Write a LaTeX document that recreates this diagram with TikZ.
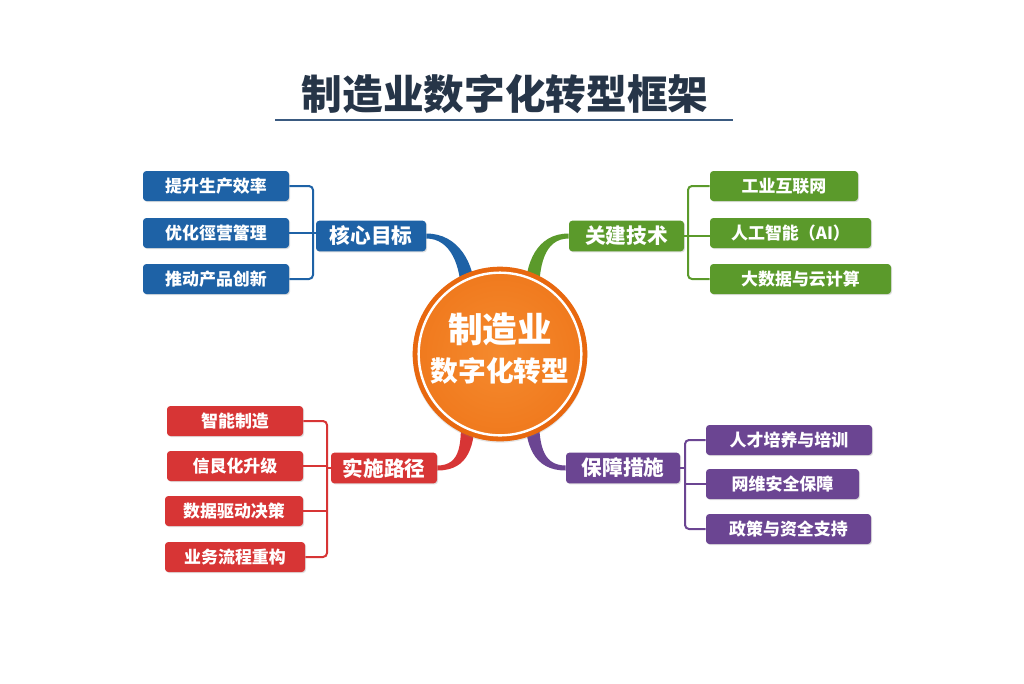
\documentclass[tikz,border=0pt]{standalone}
\usepackage{fontspec}
\setmainfont{Noto Sans CJK SC}
\usetikzlibrary{calc,shadows}
\definecolor{titleC}{HTML}{263548}
\definecolor{ruleC}{HTML}{3A5A80}
\definecolor{blueC}{HTML}{1E62A6}
\definecolor{greenC}{HTML}{5B9A2B}
\definecolor{redC}{HTML}{D73535}
\definecolor{purpleC}{HTML}{6B4592}
\definecolor{orangeC}{HTML}{F07A1E}
\definecolor{orangeD}{HTML}{E8680F}
\definecolor{orangeL}{HTML}{F58A2E}
\begin{document}
\begin{tikzpicture}[x=0.75pt,y=-0.75pt,
  boxbase/.style={rounded corners=2.5pt, text=white, inner sep=0pt,
    drop shadow={opacity=0.25, shadow xshift=0.8pt, shadow yshift=-0.8pt}},
  childbox/.style={boxbase, minimum height=22.5pt, font=\bfseries\fontsize{12.7}{14}\selectfont},
  parentbox/.style={boxbase, minimum height=23pt, font=\bfseries\fontsize{15.5}{17}\selectfont},
  bline/.style={line width=1.5pt, rounded corners=3pt}
]
\useasboundingbox (0,0) rectangle (1024,683);
\fill[white] (0,0) rectangle (1024,683);

% title
\node[font=\bfseries\fontsize{30.5}{34}\selectfont, text=titleC] (title) at (505,94) {制造业数字化转型框架};
\coordinate (ul1) at (275,120);
\coordinate (ul2) at (733,120);
\draw[ruleC, line width=2.2pt] (ul1) -- (ul2);

% blue branch
\node[parentbox, fill=blueC, minimum width=82.5pt] (b0) at (371,236) {核心目标};
\node[childbox, fill=blueC, minimum width=109.5pt] (b1) at (216,186) {提升生产效率};
\node[childbox, fill=blueC, minimum width=109.5pt] (b2) at (216,233) {优化徑营簹理};
\node[childbox, fill=blueC, minimum width=109.5pt] (b3) at (216,279) {推动产品创新};
\coordinate (bx) at (313,0);

% green branch
\node[parentbox, fill=greenC, minimum width=86.25pt] (g0) at (626.5,236) {关建技术};
\node[childbox, fill=greenC, minimum width=111pt] (g1) at (784,186) {工业互联网};
\node[childbox, fill=greenC, minimum width=120.75pt] (g2) at (790.5,233) {人工智能（AI）};
\node[childbox, fill=greenC, minimum width=135.75pt] (g3) at (800.5,279) {大数据与云计算};
\coordinate (gx) at (688,0);

% red branch
\node[parentbox, fill=redC, minimum width=79.5pt] (r0) at (384,468) {实施路径};
\node[childbox, fill=redC, minimum width=102pt] (r1) at (235,421) {智能制造};
\node[childbox, fill=redC, minimum width=102pt] (r2) at (235,466) {信艮化升级};
\node[childbox, fill=redC, minimum width=103.5pt] (r3) at (234,511) {数据驱动决策};
\node[childbox, fill=redC, minimum width=105pt] (r4) at (235,557) {业务流程重构};
\coordinate (rx) at (327,0);

% purple branch
\node[parentbox, fill=purpleC, minimum width=85.5pt] (p0) at (623,468) {保障措施};
\node[childbox, fill=purpleC, minimum width=124.5pt] (p1) at (789,440) {人才培养与培训};
\node[childbox, fill=purpleC, minimum width=114.75pt] (p2) at (782.5,484) {网维安全保障};
\node[childbox, fill=purpleC, minimum width=123.75pt] (p3) at (788.5,529) {政策与资全支持};
\coordinate (px) at (685,0);

% brackets
\draw[bline, blueC] (b1.east) -- (b1.east -| bx) -- (b3.east -| bx) -- (b3.east);
\draw[bline, blueC] (b2.east) -- (b2.east -| b0.west);
\draw[bline, greenC] (g1.west) -- (g1.west -| gx) -- (g3.west -| gx) -- (g3.west);
\draw[bline, greenC] (g0.east) -- (g0.east -| g2.west);
\draw[bline, redC] (r1.east) -- (r1.east -| rx) -- (r4.east -| rx) -- (r4.east);
\draw[bline, redC] (r2.east) -- (r2.east -| rx);
\draw[bline, redC] (r3.east) -- (r3.east -| rx);
\draw[bline, redC] (rx |- r0.west) -- (r0.west);
\draw[bline, purpleC] (p1.west) -- (p1.west -| px) -- (p3.west -| px) -- (p3.west);
\draw[bline, purpleC] (p2.west) -- (p2.west -| px);
\draw[bline, purpleC] (p0.east) -- (p0.east -| px);

% ribbons to the centre
\coordinate (cc) at (500,354);
\fill[blueC] ($(b0.east)+(0,-2.5)$) .. controls +(32,0) and +(0,-32) .. (475,295) -- (461,295) .. controls +(0,-28) and +(25,0) .. ($(b0.east)+(0,2.5)$) -- cycle;
\fill[greenC] ($(g0.west)+(0,-2.5)$) .. controls +(-32,0) and +(0,-32) .. (525,295) -- (539,295) .. controls +(0,-28) and +(-25,0) .. ($(g0.west)+(0,2.5)$) -- cycle;
\fill[redC] ($(r0.east)+(0,2.5)$) .. controls +(32,0) and +(0,32) .. (475,413) -- (461,413) .. controls +(0,28) and +(25,0) .. ($(r0.east)+(0,-2.5)$) -- cycle;
\fill[purpleC] ($(p0.west)+(0,2.5)$) .. controls +(-32,0) and +(0,32) .. (525,413) -- (539,413) .. controls +(0,28) and +(-25,0) .. ($(p0.west)+(0,-2.5)$) -- cycle;

% centre circle
\fill[orangeD, drop shadow={opacity=0.2, shadow xshift=0pt, shadow yshift=-1pt}] (cc) circle[radius=65.5pt];
\shade[inner color=orangeL, outer color=orangeC] (cc) circle[radius=61pt];
\draw[white, line width=1.8pt] (cc) circle[radius=61pt];
\node[font=\bfseries\fontsize{26}{28}\selectfont, text=white] (c1) at (500,329) {制造业};
\node[font=\bfseries\fontsize{20.8}{23}\selectfont, text=white] (c2) at (500,371) {数字化转型};
\end{tikzpicture}
\end{document}
